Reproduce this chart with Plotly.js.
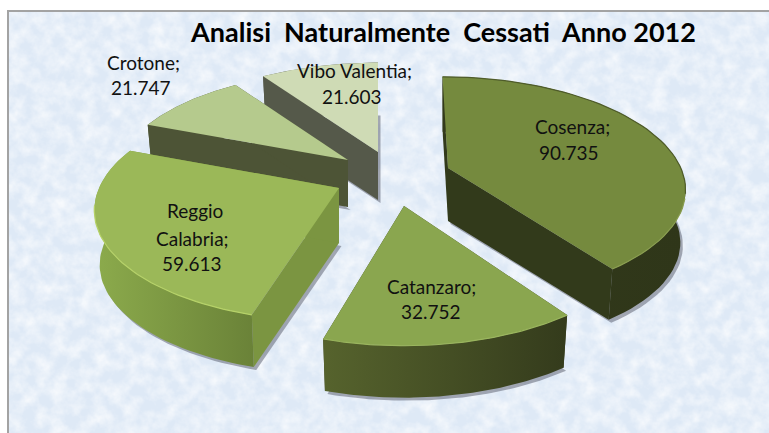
<!DOCTYPE html>
<html>
<head>
<meta charset="utf-8">
<script src="https://cdn.plot.ly/plotly-3.0.1.min.js"></script>
<style>
html,body{margin:0;padding:0;background:#fff;width:769px;height:433px;overflow:hidden}
#bg{position:absolute;left:7px;top:10px;width:762px;height:423px;border-left:2px solid #a3a3a3;border-top:2px solid #a3a3a3;box-sizing:border-box;background:#dee9f6;overflow:hidden}
#plot{position:absolute;left:0;top:0;width:769px;height:433px}
</style>
</head>
<body>
<div id="bg"><svg width="762" height="423" xmlns="http://www.w3.org/2000/svg"><filter id="t" x="0" y="0" width="100%" height="100%"><feTurbulence type="fractalNoise" baseFrequency="0.07" numOctaves="4" seed="7"/><feColorMatrix type="matrix" values="0 0 0 0 1  0 0 0 0 1  0 0 0 0 1  1.3 0 0 0 -0.42"/></filter><rect width="762" height="423" filter="url(#t)"/></svg></div>
<div id="plot"></div>
<script>
// Data
const cities = ['Cosenza', 'Catanzaro', 'Reggio Calabria', 'Crotone', 'Vibo Valentia'];
const values = [90.735, 32.752, 59.613, 21.747, 21.603];

// Look of each slice
const topColors  = ['#758a3e', '#8aa64f', '#9bb858', '#b5ca8d', '#cfdbb5'];
const faceColors = ['#323a1b', '#3b4320', '#7b9541', '#4d5436', '#55594a'];
const rimFrom    = ['#323a1b', '#56632d', '#8cab4c', '#4d5436', '#55594a'];
const rimTo      = ['#2f3619', '#343b1c', '#6a8238', '#4d5436', '#55594a'];
const frontEdge  = ['#8a9e50', '#9ab55e', '#b6d268', '#c0d49a', '#d8e2c2'];
const backEdge   = ['#4f5c2a', '#8aa64f', '#9bb858', '#b5ca8d', '#cfdbb5'];
// Exploded position of each slice's apex, per-slice scale, shear and thickness (pixels)
const apexX = [448, 404, 339, 348, 378];
const apexY = [168, 206, 188, 160, 152];
const scaleX = [0.97, 1.0, 1.0, 0.95, 0.97];
const scaleY = [1.0, 1.08, 1.03, 0.97, 0.98];
const shears = [0.06, 0, -0.05, 0, 0];
const depths = [53, 55, 55, 47, 48];
const drawOrder = [4, 3, 2, 0, 1];
// Ellipse of the tilted pie and its perspective
const radX = 240, radY = 107, persp = 0.173, squeeze = 0.978;

const labelX = [[572, 569], [431, 431], [195, 192, 192], [143, 141], [354.5, 352]];
const labelY = [[126, 152], [286, 311], [210, 238, 263], [62, 87], [70, 96]];
const labelLines = [
  [cities[0] + ';', values[0].toFixed(3)],
  [cities[1] + ';', values[1].toFixed(3)],
  ['Reggio', 'Calabria;', values[2].toFixed(3)],
  [cities[3] + ';', values[3].toFixed(3)],
  [cities[4] + ';', values[4].toFixed(3)]
];
const titleText = 'Analisi\u00A0 Naturalmente\u00A0 Cessati\u00A0 Anno 2012';

const total = values.reduce((a, b) => a + b, 0);
const starts = [];
values.reduce((acc, v, i) => { starts[i] = acc; return acc + v; }, 0);

function rimPoint(i, deg) {
  const t = deg * Math.PI / 180, s = 1 / (1 + persp * Math.cos(t));
  const dy = -radY * scaleY[i] * Math.cos(t) * s;
  return [radX * scaleX[i] * Math.sin(t) * s + shears[i] * dy, dy, deg];
}
function arc(i) {
  const a0 = starts[i] / total * 360, a1 = (starts[i] + values[i]) / total * 360, pts = [];
  for (let k = 0; k <= 60; k++) pts.push(rimPoint(i, a0 + (a1 - a0) * k / 60));
  return pts;
}
const up = (i, p) => [apexX[i] + p[0], apexY[i] + p[1]];
const low = (i, p) => [apexX[i] + p[0] * squeeze, apexY[i] + p[1] * squeeze + depths[i]];

function poly(pts, color, extra) {
  return Object.assign({
    type: 'scatter', mode: 'lines', hoverinfo: 'skip', showlegend: false,
    x: pts.map(p => p[0]).concat([pts[0][0]]),
    y: pts.map(p => p[1]).concat([pts[0][1]]),
    fill: 'toself', fillcolor: color, line: {width: 0, color: color}
  }, extra || {});
}
function edge(i, pts, color) {
  return {type: 'scatter', mode: 'lines', hoverinfo: 'skip', showlegend: false,
    x: pts.map(p => up(i, p)[0]), y: pts.map(p => up(i, p)[1]), line: {width: 1.2, color: color}};
}

const traces = [];
drawOrder.forEach(i => {
  const rim = arc(i), c = [0, 0];
  const first = rim[0], last = rim[rim.length - 1];
  const sh = [low(i, c)].concat(rim.map(p => low(i, p))).map(p => [p[0] + 2.5, p[1] + 3]);
  traces.push(poly(sh, 'rgba(85,90,105,0.5)'));
  [first, last].forEach(p => {
    traces.push(poly([up(i, c), up(i, p), low(i, p), low(i, c)], faceColors[i]));
  });
  const wall = rim.map(p => up(i, p)).concat(rim.slice().reverse().map(p => low(i, p)));
  traces.push(poly(wall, rimFrom[i], {
    fillgradient: {type: 'horizontal', colorscale: [[0, rimFrom[i]], [1, rimTo[i]]]}
  }));
  traces.push(poly([up(i, c)].concat(rim.map(p => up(i, p))), topColors[i]));
  const front = rim.filter(p => p[2] > 105 && p[2] < 262);
  const back = rim.filter(p => p[2] <= 105);
  if (front.length > 1) traces.push(edge(i, front, frontEdge[i]));
  if (back.length > 1) traces.push(edge(i, back, backEdge[i]));
});

const annotations = [];
labelLines.forEach((lines, i) => lines.forEach((txt, j) => annotations.push({
  xref: 'x', yref: 'y', x: labelX[i][j], y: labelY[i][j], text: txt, showarrow: false,
  xanchor: 'center', yanchor: 'middle', font: {family: 'Lato, "Open Sans", sans-serif', size: 19, color: '#111111'}
})));

Plotly.newPlot('plot', traces, {
  width: 769, height: 433,
  margin: {l: 0, r: 0, t: 0, b: 0},
  paper_bgcolor: 'rgba(0,0,0,0)', plot_bgcolor: 'rgba(0,0,0,0)',
  showlegend: false,
  title: {text: titleText, x: 443.5 / 769, xanchor: 'center', y: 1 - 33 / 433, yanchor: 'middle',
          font: {family: 'Lato, "Open Sans", sans-serif', size: 27, color: '#000000', weight: 'bold'}},
  xaxis: {range: [0, 769], visible: false, fixedrange: true},
  yaxis: {range: [433, 0], visible: false, fixedrange: true},
  annotations: annotations
}, {displayModeBar: false, staticPlot: true});
</script>
</body>
</html>
